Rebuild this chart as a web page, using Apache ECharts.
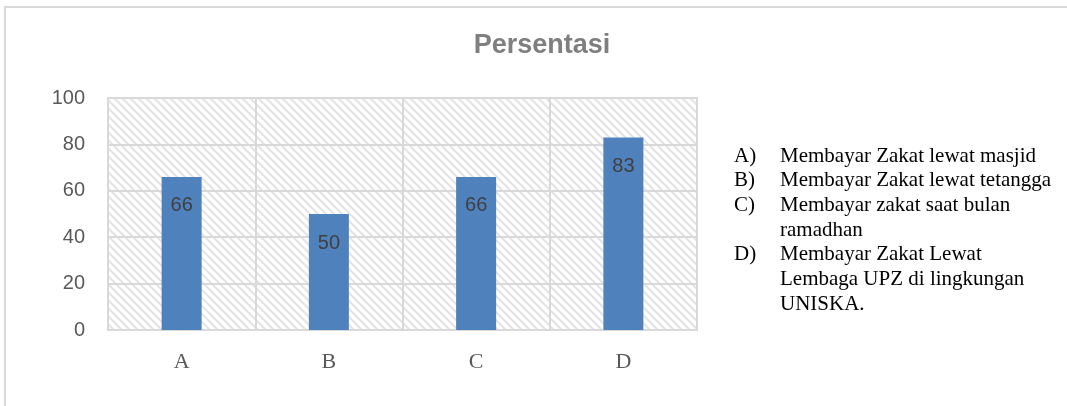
<!DOCTYPE html>
<html>
<head>
<meta charset="utf-8">
<script src="https://cdn.jsdelivr.net/npm/echarts@6/dist/echarts.min.js"></script>
<style>
  html, body { margin: 0; padding: 0; background: #fff; }
  #chart { width: 1067px; height: 406px; }
</style>
</head>
<body>
<div id="chart"></div>
<script>
const categories = ["A", "B", "C", "D"];
const values = [66, 50, 66, 83];
const yTicks = [0, 20, 40, 60, 80, 100];
const titleText = "Persentasi";
const legendLetters = ["A)", "B)", "C)", "D)"];
const legendItems = [
  "Membayar Zakat lewat masjid",
  "Membayar Zakat lewat tetangga",
  "Membayar zakat saat bulan\nramadhan",
  "Membayar Zakat Lewat\nLembaga UPZ di lingkungan\nUNISKA."
];

// hatch tile (downward diagonal)
function makeHatch() {
  const c = document.createElement("canvas");
  c.width = 8;
  c.height = 8;
  const ctx = c.getContext("2d");
  ctx.fillStyle = "#fff";
  ctx.fillRect(0, 0, 8, 8);
  ctx.strokeStyle = "#e4e4e4";
  ctx.lineWidth = 2.2;
  ctx.beginPath();
  ctx.moveTo(-2, -2); ctx.lineTo(10, 10);
  ctx.moveTo(-2, 6); ctx.lineTo(2, 10);
  ctx.moveTo(6, -2); ctx.lineTo(10, 2);
  ctx.stroke();
  return c;
}

const lineH = 24.7;
const legendGraphics = [];
let row = 0;
legendItems.forEach((txt, i) => {
  const y0 = 156 + row * lineH;
  legendGraphics.push({
    type: "text",
    style: { text: legendLetters[i], x: 734, y: y0, verticalAlign: "middle",
      font: "21px 'Liberation Serif'", fill: "#000" }
  });
  txt.split("\n").forEach((ln, j) => {
    legendGraphics.push({
      type: "text",
      style: { text: ln, x: 780, y: y0 + j * lineH, verticalAlign: "middle",
        font: "21px 'Liberation Serif'", fill: "#000" }
    });
  });
  row += txt.split("\n").length;
});

const chart = echarts.init(document.getElementById("chart"));
chart.setOption({
  animation: false,
  grid: {
    left: 108, top: 98, right: 370, bottom: 76,
    show: true,
    backgroundColor: { image: makeHatch(), repeat: "repeat" },
    borderColor: "#d9d9d9",
    borderWidth: 2
  },
  xAxis: {
    type: "category",
    data: categories,
    axisLine: { lineStyle: { color: "#d9d9d9", width: 2 } },
    axisTick: { show: false },
    splitLine: { show: true, lineStyle: { color: "#d9d9d9", width: 2 } },
    axisLabel: { fontFamily: "Liberation Serif", fontSize: 22, color: "#595959", margin: 21 }
  },
  yAxis: {
    type: "value",
    min: yTicks[0],
    max: yTicks[yTicks.length - 1],
    interval: 20,
    axisLine: { show: false },
    axisTick: { show: false },
    splitLine: { lineStyle: { color: "#d9d9d9", width: 2 } },
    axisLabel: { fontFamily: "Liberation Sans", fontSize: 20, color: "#595959", margin: 23 }
  },
  series: [{
    type: "bar",
    data: values,
    barWidth: 40,
    itemStyle: { color: "#4f81bd" },
    label: {
      show: true,
      position: "insideTop",
      distance: 19,
      fontFamily: "Liberation Sans",
      fontSize: 20,
      color: "#404040"
    }
  }],
  graphic: [
    {
      type: "polyline",
      shape: { points: [[5, 420], [5, 7], [1080, 7]] },
      style: { stroke: "#d9d9d9", lineWidth: 2, fill: null },
      silent: true
    },
    {
      type: "text",
      style: { text: titleText, x: 542, y: 46, align: "center", verticalAlign: "middle",
        font: "bold 27px 'Liberation Sans'", fill: "#7f7f7f" }
    }
  ].concat(legendGraphics)
});
</script>
</body>
</html>
